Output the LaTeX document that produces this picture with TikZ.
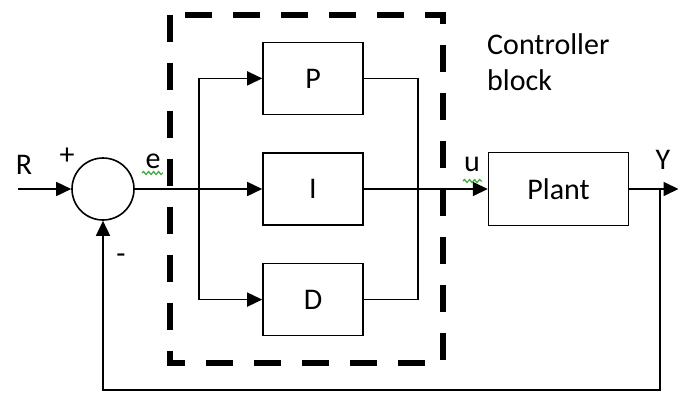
\documentclass[tikz,border=0pt]{standalone}
\usepackage{fontspec}
\setmainfont{Carlito}
\usetikzlibrary{arrows.meta,positioning,decorations.pathmorphing}
\definecolor{squiggreen}{RGB}{60,170,60}

\tikzset{
  blk/.style={rectangle, draw, line width=1.6pt, minimum width=100pt, minimum height=72pt,
              font=\fontsize{30}{36}\selectfont},
  sig/.style={line width=1.6pt},
  arr/.style={sig, -{Triangle[length=15pt,width=14pt]}},
  lbl/.style={font=\fontsize{30}{36}\selectfont, inner sep=0pt},
  ctrlbox/.style={line width=6.5pt, dash pattern=on 27pt off 21pt},
  squig/.style={draw=squiggreen, line width=1.2pt, decorate,
                decoration={snake, amplitude=1.5pt, segment length=5pt}}
}

\begin{document}
\begin{tikzpicture}[x=1pt,y=-1pt]
  \useasboundingbox (0,0) rectangle (679,394);

  % sum point and the three controller terms
  \node[circle, draw, line width=1.6pt, minimum size=62pt] (sum) at (103,189) {};
  \node[blk] (I) at (313,189) {I};
  \node[blk, above=37pt of I] (P) {P};
  \node[blk, below=37pt of I] (D) {D};
  \node[blk, right=124pt of I, minimum width=140pt, minimum height=73pt] (plant) {Plant};

  \coordinate (rin) at (18,189);
  \coordinate (br) at (199,189);
  \coordinate (mg) at (418,189);
  \coordinate (tap) at (660,189);
  \coordinate (yout) at (678.5,189);
  \coordinate (fb) at (660,390);

  % controller block outline
  \draw[ctrlbox] (170,15) rectangle (443,363);

  % signals
  \draw[arr] (rin) -- (sum.west);
  \draw[arr] (sum.east) -- (I.west);
  \draw[sig] (br |- P) -- (br |- D);
  \draw[arr] (br |- P) -- (P.west);
  \draw[arr] (br |- D) -- (D.west);
  \draw[sig] (P.east) -- (mg |- P) -- (mg |- D) -- (D.east);
  \draw[arr] (I.east) -- (plant.west);
  \draw[arr] (plant.east) -- (yout);
  \draw[arr] (tap) -- (fb) -| (sum.south);

  % labels
  \node[lbl] (rlbl) at (24,165) {R};
  \node[lbl] (plus) at (67,156) {+};
  \node[lbl] (minus) at (121,259) {-};
  \node[lbl] (elbl) at (153,161) {e};
  \node[lbl] (ulbl) at (472,164) {u};
  \node[lbl] (ylbl) at (663,160) {Y};
  \node[lbl, anchor=north west, align=left] (ctrl) at (487,33) {Controller\\block};

  \draw[squig] (142,173) -- (163,173);
  \draw[squig] (463,181) -- (482,181);
\end{tikzpicture}
\end{document}
